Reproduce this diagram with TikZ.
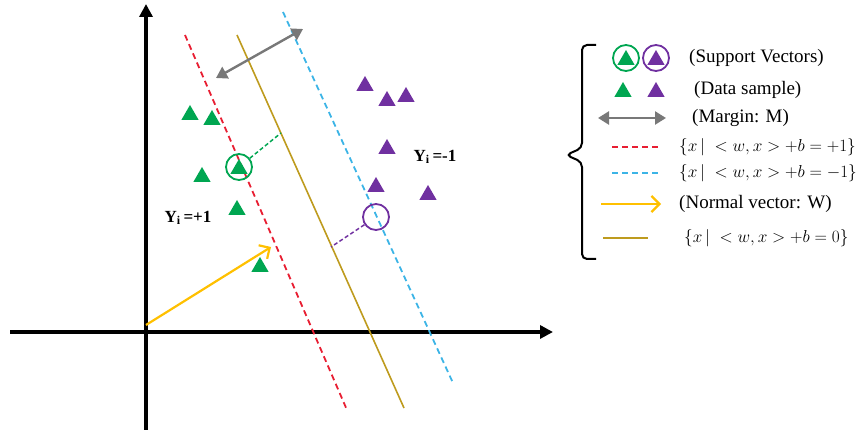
\documentclass[tikz,border=0pt]{standalone}
\usepackage{fontspec}
\setmainfont{Liberation Serif}
\usetikzlibrary{shapes.geometric,arrows.meta}
\definecolor{svgreen}{RGB}{0,166,81}
\definecolor{svpurple}{RGB}{112,48,160}
\definecolor{hred}{RGB}{232,30,50}
\definecolor{hblue}{RGB}{60,180,230}
\definecolor{holive}{RGB}{190,155,30}
\definecolor{hgold}{RGB}{255,192,0}
\definecolor{mgray}{RGB}{120,120,120}
\begin{document}
\begin{tikzpicture}[x=1pt,y=-1pt,
  tri/.style={regular polygon, regular polygon sides=3, fill=#1, draw=none, inner sep=0pt, minimum size=20pt},
  svc/.style={circle, draw=#1, line width=1.8pt, minimum size=26pt, inner sep=0pt},
  axis/.style={line width=3.5pt, -{Triangle[length=13pt,width=13pt]}},
  redline/.style={hred, line width=1.8pt, dash pattern=on 6pt off 4pt},
  blueline/.style={hblue, line width=1.8pt, dash pattern=on 6pt off 4pt},
  oliveline/.style={holive, line width=1.6pt},
  goldarrow/.style={hgold, line width=2.2pt, -{Straight Barb[length=8pt,width=16pt,line width=2.2pt]}},
  grayarrow/.style={mgray, line width=2.4pt, {Triangle[length=11pt,width=13pt]}-{Triangle[length=11pt,width=13pt]}},
  lbl/.style={font=\bfseries\fontsize{17}{19}\selectfont, inner sep=0pt},
  lgtext/.style={anchor=west, inner sep=0pt, font=\fontsize{19}{21}\selectfont},
  lgmath/.style={anchor=west, inner sep=0pt, font=\fontsize{17.5}{20}\selectfont}
]
\useasboundingbox (0,0) rectangle (863,430);

% axes
\coordinate (ya) at (146,430);
\coordinate (yb) at (146,4);
\coordinate (xa) at (10,332);
\coordinate (xb) at (553,332);
\draw[axis] (ya) -- (yb);
\draw[axis] (xa) -- (xb);

% hyperplanes
\coordinate (r1) at (185,35);  \coordinate (r2) at (347,410);
\coordinate (o1) at (237,35);  \coordinate (o2) at (404,408);
\coordinate (b1) at (283,12);  \coordinate (b2) at (453,383);
\draw[redline] (r1) -- (r2);
\draw[oliveline] (o1) -- (o2);
\draw[blueline] (b1) -- (b2);

% margin arrow
\coordinate (m1) at (216,78);
\coordinate (m2) at (303,29);
\draw[grayarrow] (m1) -- (m2);

% normal vector
\coordinate (n1) at (146,325);
\coordinate (n2) at (271,247);
\draw[goldarrow] (n1) -- (n2);

% green samples
\node[tri=svgreen] (g1) at (190,115) {};
\node[tri=svgreen] (g2) at (212,120) {};
\node[tri=svgreen] (g3) at (202,177) {};
\node[tri=svgreen] (g4) at (237,210) {};
\node[tri=svgreen] (g5) at (260,267) {};
\node[tri=svgreen] (gs) at (239,169) {};
\node[svc=svgreen] (gsc) at (239,167) {};

% purple samples
\node[tri=svpurple] (p1) at (365,86) {};
\node[tri=svpurple] (p2) at (387,101) {};
\node[tri=svpurple] (p3) at (406,97) {};
\node[tri=svpurple] (p4) at (387,149) {};
\node[tri=svpurple] (p5) at (376,187) {};
\node[tri=svpurple] (p6) at (428,195) {};
\node[svc=svpurple] (psc) at (376,217) {};

% distances to hyperplane
\coordinate (gd) at (281,133);
\coordinate (pd) at (331,247);
\draw[svgreen, line width=1.5pt, dash pattern=on 4pt off 2.5pt] (gsc) -- (gd);
\draw[svpurple, line width=1.5pt, dash pattern=on 4pt off 2.5pt] (psc) -- (pd);

% class labels
\node[lbl] (yp) at (188,218) {Y\textsubscript{i}\,=+1};
\node[lbl] (ym) at (435,157) {Y\textsubscript{i}\,=-1};

% legend brace
\draw[line width=2pt, rounded corners=5pt] (596,45) -- (582,45) -- (582,148) -- (566,155) -- (582,162) -- (582,259) -- (596,259);

% legend symbols
\node[tri=svgreen] (lg1a) at (626,60) {};
\node[svc=svgreen] (lg1b) at (626,58) {};
\node[tri=svpurple] (lg1c) at (656,60) {};
\node[svc=svpurple] (lg1d) at (656,58) {};
\node[tri=svgreen] (lg2a) at (623,92) {};
\node[tri=svpurple] (lg2b) at (656,92) {};
\coordinate (lg3a) at (598,118); \coordinate (lg3b) at (666,118);
\draw[grayarrow] (lg3a) -- (lg3b);
\coordinate (lg4a) at (612,147); \coordinate (lg4b) at (660,147);
\draw[redline] (lg4a) -- (lg4b);
\coordinate (lg5a) at (612,173); \coordinate (lg5b) at (660,173);
\draw[blueline] (lg5a) -- (lg5b);
\coordinate (lg6a) at (601,204); \coordinate (lg6b) at (661,204);
\draw[goldarrow] (lg6a) -- (lg6b);
\coordinate (lg7a) at (603,238); \coordinate (lg7b) at (648,238);
\draw[oliveline] (lg7a) -- (lg7b);

% legend texts
\node[lgtext] (t1) at (689,58) {(Support Vectors)};
\node[lgtext] (t2) at (694,90) {(Data sample)};
\node[lgtext] (t3) at (692,118) {(Margin: M)};
\node[lgmath] (t4) at (679,147) {$\{x\,\big|\;<w,x>+b=+1\}$};
\node[lgmath] (t5) at (679,173) {$\{x\,\big|\;<w,x>+b=-1\}$};
\node[lgtext] (t6) at (679,204) {(Normal vector: W)};
\node[lgmath] (t7) at (684,238) {$\{x\,\big|\;<w,x>+b=0\}$};
\end{tikzpicture}
\end{document}
